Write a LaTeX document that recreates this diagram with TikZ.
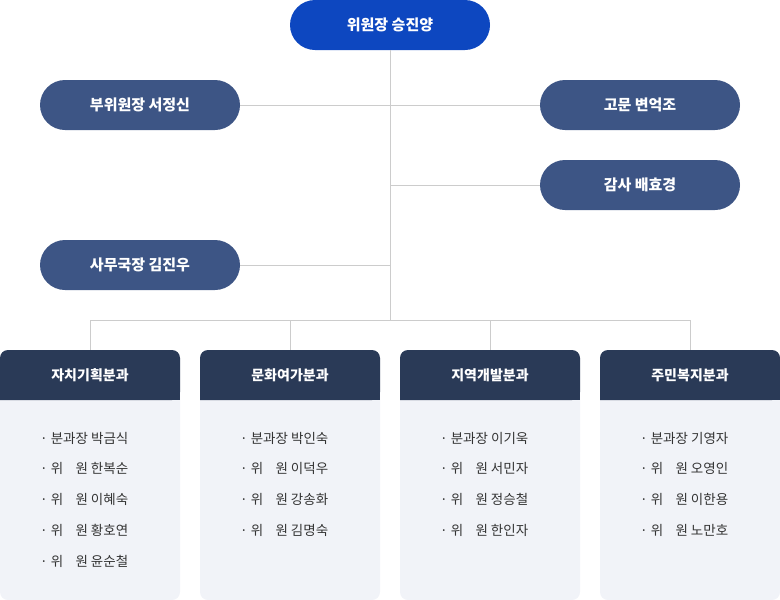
\documentclass[tikz,border=0pt]{standalone}
\usepackage{fontspec}
\setmainfont{Noto Sans CJK KR}
\usetikzlibrary{positioning}
\definecolor{topblue}{HTML}{0D47C0}
\definecolor{pillblue}{HTML}{3D5585}
\definecolor{headnavy}{HTML}{2A3A57}
\definecolor{bodygray}{HTML}{F1F3F8}
\definecolor{linegray}{HTML}{CCCCCC}
\definecolor{txtgray}{HTML}{333333}
\tikzset{
  pill/.style={fill=pillblue, text=white, rounded corners=25pt, minimum width=200pt, minimum height=50pt, font=\bfseries\fontsize{15}{18}\selectfont},
  conn/.style={draw=linegray, line width=0.8pt},
  member/.style={anchor=west, text=txtgray, font=\fontsize{13.5}{16}\selectfont, inner sep=0pt},
}
\newcommand{\wiwon}{\makebox[2.75em][s]{위\hfill 원}}
\begin{document}
\begin{tikzpicture}[x=1pt,y=-1pt]
\useasboundingbox (0,0) rectangle (780,600);
% top
\node[pill, fill=topblue] (chair) at (390,25) {위원장 승진양};
\node[pill] (vice) at (140,105) {부위원장 서정신};
\node[pill] (advisor) at (640,105) {고문 변억조};
\node[pill] (audit) at (640,185) {감사 배효경};
\node[pill] (office) at (140,265) {사무국장 김진우};
% connectors
\coordinate (hub) at (390,320);
\draw[conn] (chair.south) -- (hub);
\draw[conn] (vice.east) -- (advisor.west);
\draw[conn] (audit.west) -- (390,185);
\draw[conn] (office.east) -- (390,265);
\draw[conn] (90,320) -- (690,320);
\foreach \x in {90,290,490,690} \draw[conn] (\x,320) -- (\x,350);
% committees
\foreach \x/\name [count=\i] in {0/자치기획분과,200/문화여가분과,400/지역개발분과,600/주민복지분과}{
  \fill[bodygray, rounded corners=8pt] (\x,350) rectangle (\x+180,600);
  \fill[headnavy, rounded corners=8pt] (\x,400) -- (\x,350) -- (\x+180,350) -- (\x+180,400) [sharp corners] -- cycle;
  \fill[headnavy] (\x,390) rectangle (\x+180,400);
  \node[text=white, font=\fontsize{14}{17}\selectfont\bfseries] (head\i) at (\x+90,375) {\name};
}
\foreach \x/\a/\b/\c/\d/\e in {40/박금식/한복순/이혜숙/황호연/윤순철,240/박인숙/이덕우/강송화/김명숙/,440/이기욱/서민자/정승철/한인자/,640/기영자/오영인/이한용/노만호/}{
  \node[member] (m\x a) at (\x,438) {· 분과장\ \a};
  \node[member] (m\x b) at (\x,468) {· \wiwon\ \b};
  \node[member] (m\x c) at (\x,499) {· \wiwon\ \c};
  \node[member] (m\x d) at (\x,530) {· \wiwon\ \d};
}
\node[member] (m40e) at (40,561) {· \wiwon\ 윤순철};
\end{tikzpicture}
\end{document}
